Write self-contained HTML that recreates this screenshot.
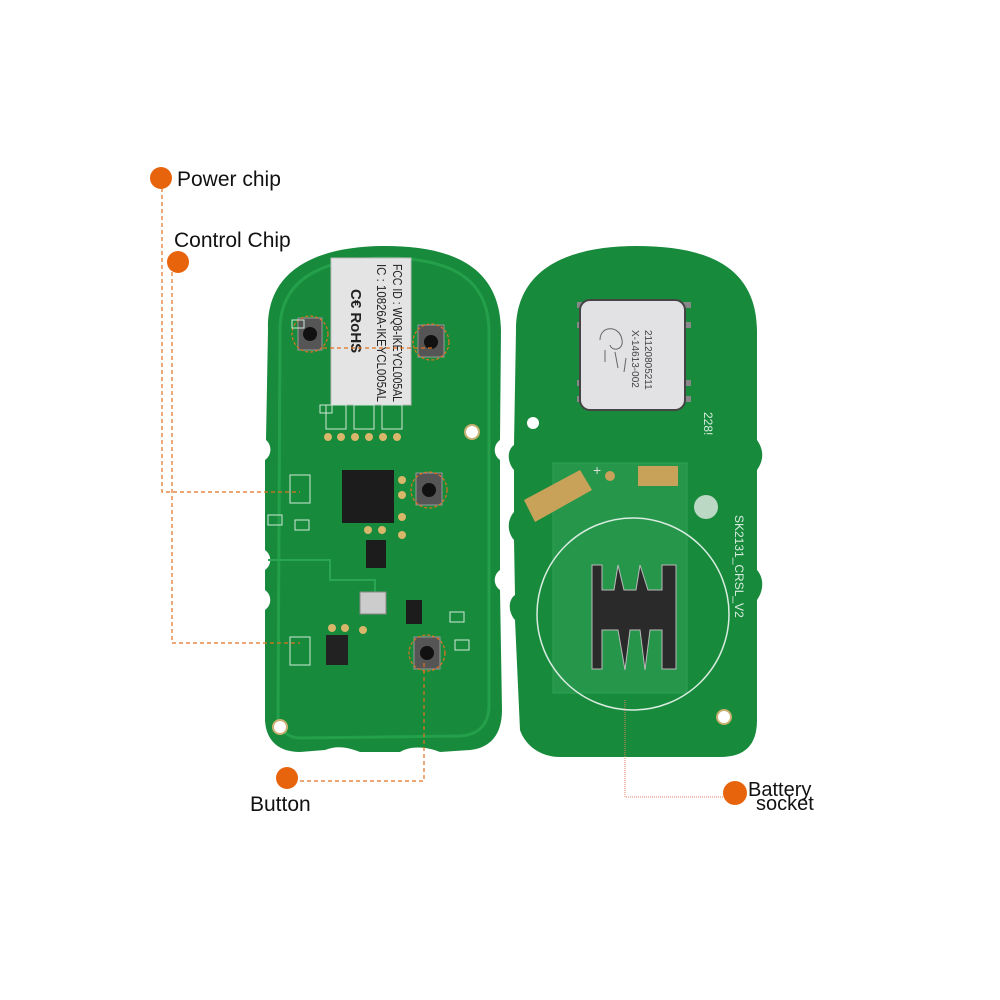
<!DOCTYPE html>
<html><head><style>
body{margin:0;background:#fff;width:1000px;height:1000px;overflow:hidden}
svg{display:block}
text{font-family:"Liberation Sans",sans-serif}
</style></head><body>
<svg width="1000" height="1000" viewBox="0 0 1000 1000">
<!-- LEFT BOARD -->
<path d="M268,330 C266,262 330,246 385,246 C445,246 500,262 501,330 L500,440 C493,445 493,455 500,460 L500,570 C493,575 493,585 500,590 L502,710 C502,735 490,748 470,750 L440,752 C425,746 410,746 400,752 L360,752 C345,746 335,746 325,750 L300,752 C280,752 266,742 265,720 L265,610 C272,605 272,595 265,590 L265,570 C272,565 272,555 265,550 L265,460 C272,455 272,445 266,440 Z" fill="#188a3c"/>
<path d="M280,330 C280,272 335,258 385,258 C440,258 488,272 489,330 L489,705 C489,725 478,735 460,736 L300,738 C288,738 280,730 278,720 Z" fill="none" stroke="#24a04b" stroke-width="3"/>
<path d="M268,560 L330,560 L330,580 L375,580 L375,600" fill="none" stroke="#2aa552" stroke-width="2"/>
<circle cx="280" cy="727" r="7" fill="#fff" stroke="#c9b070" stroke-width="2"/>
<circle cx="472" cy="432" r="7" fill="#fff" stroke="#c9b070" stroke-width="2"/>
<!-- label sticker -->
<rect x="331" y="258" width="80" height="147" fill="#e4e4e4" stroke="#bbb"/>
<g transform="translate(393,264) rotate(90)" font-size="13" fill="#222">
<text x="0" y="0" textLength="138" lengthAdjust="spacingAndGlyphs">FCC ID : WQ8-IKEYCL005AL</text>
<text x="0" y="16" textLength="138" lengthAdjust="spacingAndGlyphs">IC : 10826A-IKEYCL005AL</text>
<text x="25" y="42" font-weight="bold" font-size="15">C€  RoHS</text>
</g>
<!-- buttons -->
<g fill="#555" stroke="#999">
<rect x="298" y="318" width="24" height="32"/><rect x="418" y="325" width="26" height="32"/>
<rect x="416" y="473" width="26" height="32"/><rect x="414" y="637" width="26" height="32"/>
</g>
<g fill="#111"><circle cx="310" cy="334" r="7"/><circle cx="431" cy="342" r="7"/><circle cx="429" cy="490" r="7"/><circle cx="427" cy="653" r="7"/></g>
<g fill="none" stroke="#e07020" stroke-dasharray="3,2" stroke-width="1.2">
<circle cx="310" cy="334" r="18"/><circle cx="431" cy="342" r="18"/><circle cx="429" cy="490" r="18"/><circle cx="427" cy="653" r="18"/>
</g>
<!-- chips -->
<rect x="342" y="470" width="52" height="53" fill="#1c1c1c"/>
<rect x="366" y="540" width="20" height="28" fill="#1c1c1c"/>
<rect x="406" y="600" width="16" height="24" fill="#1c1c1c"/>
<rect x="326" y="635" width="22" height="30" fill="#222"/>
<rect x="360" y="592" width="26" height="22" fill="#ccc" stroke="#888"/>
<g fill="#d8b66a">
<circle cx="328" cy="437" r="4"/><circle cx="341" cy="437" r="4"/><circle cx="355" cy="437" r="4"/><circle cx="369" cy="437" r="4"/><circle cx="383" cy="437" r="4"/><circle cx="397" cy="437" r="4"/>
<circle cx="402" cy="480" r="4"/><circle cx="402" cy="495" r="4"/><circle cx="402" cy="517" r="4"/><circle cx="402" cy="535" r="4"/>
<circle cx="368" cy="530" r="4"/><circle cx="382" cy="530" r="4"/><circle cx="332" cy="628" r="4"/><circle cx="345" cy="628" r="4"/><circle cx="363" cy="630" r="4"/>
</g>
<g fill="none" stroke="#cfe8d6" stroke-width="1">
<rect x="326" y="405" width="20" height="24"/><rect x="354" y="405" width="20" height="24"/><rect x="382" y="405" width="20" height="24"/>
<rect x="290" y="475" width="20" height="28"/><rect x="290" y="637" width="20" height="28"/>
<rect x="268" y="515" width="14" height="10"/><rect x="295" y="520" width="14" height="10"/><rect x="450" y="612" width="14" height="10"/>
<rect x="455" y="640" width="14" height="10"/><rect x="320" y="405" width="12" height="8"/><rect x="292" y="320" width="12" height="8"/>
</g>
<!-- RIGHT BOARD -->
<path d="M516,330 C516,262 580,246 636,246 C700,246 756,262 757,330 L757,440 C764,450 764,460 757,470 L757,570 C764,578 764,590 757,600 L757,720 C757,745 745,757 720,757 L560,757 C540,757 525,745 520,730 L515,620 C508,612 508,600 515,595 L514,540 C507,532 507,520 514,512 L514,470 C507,462 507,450 514,445 Z" fill="#188a3c"/>
<rect x="553" y="463" width="134" height="230" fill="#25964a" stroke="#2ea355"/>
<circle cx="633" cy="614" r="96" fill="none" stroke="#d8ece0" stroke-width="1.5"/>
<rect x="577" y="302" width="8" height="6" fill="#888"/><rect x="577" y="322" width="8" height="6" fill="#888"/><rect x="577" y="380" width="8" height="6" fill="#888"/><rect x="577" y="396" width="8" height="6" fill="#888"/>
<rect x="683" y="302" width="8" height="6" fill="#888"/><rect x="683" y="322" width="8" height="6" fill="#888"/><rect x="683" y="380" width="8" height="6" fill="#888"/><rect x="683" y="396" width="8" height="6" fill="#888"/>
<rect x="580" y="300" width="105" height="110" rx="10" fill="#e2e2e4" stroke="#444" stroke-width="2"/>
<g transform="translate(645,330) rotate(90)" font-size="10" fill="#444"><text>21120805211</text><text y="13">X-14613-002</text></g>
<g fill="none" stroke="#666" stroke-width="1"><path d="M600,340 C600,325 620,325 622,340 C624,350 612,352 610,345 M605,350 L605,362 M615,352 L618,368 M626,358 L624,372"/></g>
<circle cx="533" cy="423" r="6" fill="#fff"/>
<circle cx="724" cy="717" r="7" fill="#fff" stroke="#c9b070" stroke-width="2"/>
<path d="M524,500 L580,470 L592,490 L535,522 Z" fill="#c9a25a"/>
<rect x="638" y="466" width="40" height="20" fill="#c9a25a"/>
<circle cx="610" cy="476" r="5" fill="#c9a25a"/>
<text x="593" y="475" fill="#ddd" font-size="14">+</text>
<circle cx="706" cy="507" r="12" fill="#bbd8c4"/>
<g transform="translate(704,412) rotate(90)" font-size="12" fill="#d8ece0"><text>228!</text></g>
<g transform="translate(735,515) rotate(90)" font-size="12" fill="#d8ece0"><text>SK2131_CRSL_V2</text></g>
<!-- battery clip -->
<path d="M592,565 L602,565 L602,590 L614,590 L618,565 L624,590 L636,590 L640,565 L648,590 L662,590 L662,565 L676,565 L676,669 L662,669 L662,630 L650,630 L645,670 L640,630 L630,630 L625,670 L618,630 L602,630 L602,669 L592,669 Z" fill="#2a2a2a" stroke="#bbb"/>
<!-- annotations -->
<g fill="none" stroke="#e07020" stroke-width="1.2" stroke-dasharray="4,3">
<path d="M162,188 L162,492 L300,492"/>
<path d="M172,272 L172,643 L300,643"/>
<path d="M300,781 L424,781 L424,662"/>
<path d="M323,348 L432,348"/>
</g>
<path d="M625,700 L625,797 L725,797" fill="none" stroke="#e08060" stroke-width="1" stroke-dasharray="1,1"/>
<g fill="#e8640c">
<circle cx="161" cy="178" r="11"/><circle cx="178" cy="262" r="11"/>
<circle cx="287" cy="778" r="11"/><circle cx="735" cy="793" r="12"/>
</g>
<g fill="#111" font-size="21">
<text x="177" y="186">Power chip</text>
<text x="174" y="247">Control Chip</text>
<text x="250" y="811">Button</text>
<text x="748" y="796" font-size="20">Battery</text>
<text x="756" y="810" font-size="20">socket</text>
</g>
</svg>
</body></html>
